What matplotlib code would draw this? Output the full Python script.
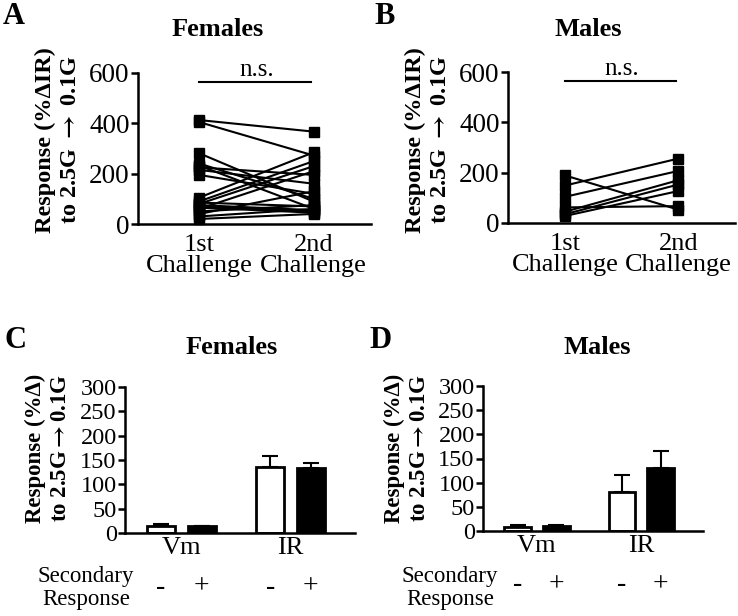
import numpy as np
import matplotlib
matplotlib.use("Agg")
import matplotlib.pyplot as plt

plt.rcParams['font.family'] = ['Liberation Serif', 'DejaVu Serif']
plt.rcParams['mathtext.fontset'] = 'stix'

# paired responses, 1st vs 2nd challenge
fem_1st = [413, 405, 281, 240, 232, 225, 215, 195, 105, 90, 85, 80, 75, 70, 65, 60, 50, 40, 30, 20]
fem_2nd = [367, 272, 89, 100, 60, 195, 160, 120, 285, 250, 70, 230, 55, 50, 45, 210, 75, 130, 60, 40]
male_1st = [189, 149, 104, 62, 45, 35, 28]
male_2nd = [53, 256, 207, 67, 170, 153, 127]
challenge_labels = ['1st\nChallenge', '2nd\nChallenge']

# bar panels: Vm(-), Vm(+), IR(-), IR(+)
group_labels = ['Vm', 'IR']
sec_labels = ['-', '+', '-', '+']
fem_means = [15, 14, 136, 133]
fem_err = [3, 1, 23, 11]
male_means = [9, 11, 80, 130]
male_err = [4, 1, 36, 36]

W, H = 738, 616
fig = plt.figure(figsize=(W / 100, H / 100), dpi=100)


def px_axes(left, bottom, right, top):
    return fig.add_axes([left / W, 1 - bottom / H, (right - left) / W, (bottom - top) / H])


def ftext(x, y, s, **kw):
    fig.text(x / W, 1 - y / H, s, **kw)


def style(ax, tick_size):
    for s in ['top', 'right']:
        ax.spines[s].set_visible(False)
    for s in ['left', 'bottom']:
        ax.spines[s].set_linewidth(1.8)
    ax.tick_params(axis='y', width=1.8, length=5, labelsize=tick_size, pad=1)
    ax.tick_params(axis='x', length=0)


def paired(ax, a, b, xlim):
    for y1, y2 in zip(a, b):
        ax.plot([1, 2], [y1, y2], color='black', lw=1.5, marker='s', ms=6.5,
                clip_on=False)
    ax.set_xlim(*xlim)
    ax.set_ylim(0, 600)
    ax.set_yticks([0, 200, 400, 600])
    ax.set_xticks([1, 2])
    ax.set_xticklabels(challenge_labels, fontsize=19, linespacing=0.95)
    style(ax, 19.5)
    ax.tick_params(axis='x', pad=7)
    ax.plot([1, 1.98], [565, 565], color='black', lw=1.5)
    ax.text(1.5, 570, 'n.s.', ha='center', va='bottom', fontsize=18)


def bars(ax, means, err):
    x = np.array([0, 1.45, 3.9, 5.35])
    ax.bar(x, means, width=1, color=['white', 'black', 'white', 'black'],
           edgecolor='black', linewidth=2, zorder=2)
    ax.errorbar(x, means, yerr=[np.zeros(len(err)), err], fmt='none',
                ecolor='black', elinewidth=1.5, capsize=6, capthick=1.5, zorder=1)
    ax.set_xlim(-1.29, 6.93)
    ax.set_ylim(0, 300)
    ax.set_yticks(range(0, 301, 50))
    ax.set_xticks([(x[0] + x[1]) / 2, (x[2] + x[3]) / 2])
    ax.set_xticklabels(group_labels, fontsize=19)
    style(ax, 17.5)
    ax.tick_params(axis='x', pad=3)
    for xi, s in zip(x, sec_labels):
        ax.text(xi, -0.37, s, transform=ax.get_xaxis_transform(), ha='center',
                va='center', fontsize=20)


axA = px_axes(138, 224, 371, 73)
paired(axA, fem_1st, fem_2nd, (0.465, 2.5))
axB = px_axes(508, 223, 735, 72)
paired(axB, male_1st, male_2nd, (0.496, 2.5))

axC = px_axes(125, 533, 355, 387)
bars(axC, fem_means, fem_err)
axD = px_axes(483, 531, 703, 386)
bars(axD, male_means, male_err)

# y labels
ylab_ab = 'Response (%ΔIR)\nto 2.5G $\\mathbf{\\rightarrow}$ 0.1G'
ylab_cd = 'Response (%Δ)\nto 2.5G$\\mathbf{\\rightarrow}$0.1G'
ftext(58, 140, ylab_ab, rotation=90, ha='center', va='center', fontsize=17.5,
      fontweight='bold', linespacing=1.3)
ftext(428, 140, ylab_ab, rotation=90, ha='center', va='center', fontsize=17.5,
      fontweight='bold', linespacing=1.3)
ftext(48, 448, ylab_cd, rotation=90, ha='center', va='center', fontsize=16.5,
      fontweight='bold', linespacing=1.25)
ftext(407, 448, ylab_cd, rotation=90, ha='center', va='center', fontsize=16.5,
      fontweight='bold', linespacing=1.25)

# titles
ftext(218, 29, 'Females', ha='center', va='center', fontsize=19, fontweight='bold')
ftext(588, 29, 'Males', ha='center', va='center', fontsize=19, fontweight='bold')
ftext(232, 348, 'Females', ha='center', va='center', fontsize=19, fontweight='bold')
ftext(597, 348, 'Males', ha='center', va='center', fontsize=19, fontweight='bold')

# panel letters
for lx, ly, s in [(14, 17, 'A'), (385, 17, 'B'), (15, 340, 'C'), (381, 340, 'D')]:
    ftext(lx, ly, s, ha='center', va='center', fontsize=22, fontweight='bold')

# secondary response row labels
ftext(86, 588, 'Secondary\nResponse', ha='center', va='center', fontsize=16.5,
      linespacing=1.1)
ftext(450, 588, 'Secondary\nResponse', ha='center', va='center', fontsize=16.5,
      linespacing=1.1)

fig.savefig('out.png', dpi=100)
